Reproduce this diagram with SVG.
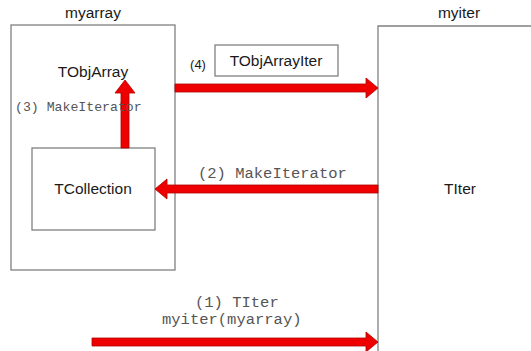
<svg xmlns="http://www.w3.org/2000/svg" width="531" height="351" viewBox="0 0 531 351">
<style>
.box{fill:#fff;stroke:#808080;stroke-width:1.3}
.lbl{font-family:"Liberation Sans",Arial,sans-serif;font-size:15.5px;fill:#1a1a1a;text-anchor:middle}
.mono{font-family:"Liberation Mono","Courier New",monospace;font-size:15.5px;fill:#555;}
.arr{fill:#ee0000;stroke:#b00000;stroke-width:0.8}
</style>
<rect width="531" height="351" fill="#fff"/>
<g id="myarray">
<rect class="box" x="11" y="25" width="164" height="245"/>
<text class="lbl" x="93" y="18">myarray</text>
<text class="lbl" x="93" y="77">TObjArray</text>
</g>
<g id="tcollection">
<rect class="box" x="32" y="148" width="123" height="82"/>
<text class="lbl" x="93" y="194">TCollection</text>
</g>
<g id="myiter">
<path class="box" d="M531,26 H378 V351" fill="none"/>
<text class="lbl" x="459" y="18">myiter</text>
<text class="lbl" x="460" y="194">TIter</text>
</g>
<g id="tobjarrayiter">
<rect class="box" x="215" y="45" width="123" height="31"/>
<text class="lbl" x="276" y="66">TObjArrayIter</text>
</g>
<g id="connectors">
<polygon class="arr" points="175,84 366,84 366,78 378,88 366,98 366,92 175,92"/>
<polygon class="arr" points="378,185 167,185 167,179 155,189 167,199 167,193 378,193"/>
<polygon class="arr" points="92,338 366,338 366,332 378,342 366,352 366,346 92,346"/>
<polygon class="arr" points="121,148 121,93 115,93 125,80 135,93 129,93 129,148"/>
</g>
<g id="labels">
<text class="mono" x="15" y="111" font-size="13.2px" style="font-size:13.2px">(3) MakeIterator</text>
<text class="lbl" x="198" y="69" style="font-size:13px">(4)</text>
<text class="mono" x="198" y="178">(2) MakeIterator</text>
<text class="mono" x="195" y="307">(1) TIter</text>
<text class="mono" x="162" y="324">myiter(myarray)</text>
</g>
</svg>
